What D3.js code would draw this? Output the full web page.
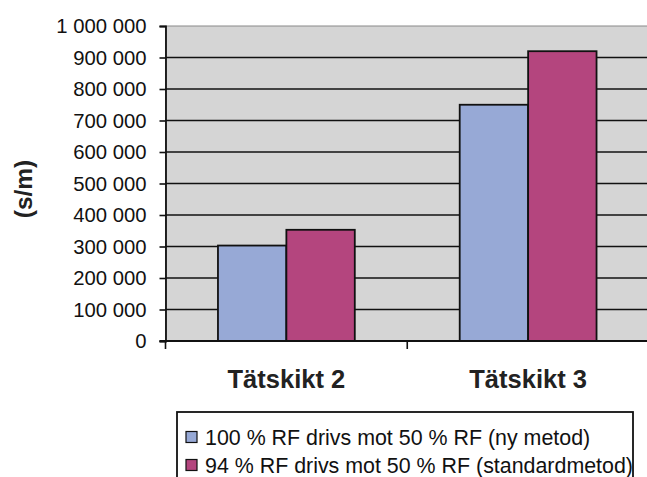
<!DOCTYPE html>
<html><head><meta charset="utf-8">
<script src="https://cdn.jsdelivr.net/npm/d3@7"></script>
<style>html,body{margin:0;padding:0;background:#fff}svg{display:block}</style>
</head><body>
<script>
const categories = ["Tätskikt 2", "Tätskikt 3"];
const seriesNames = ["100 % RF drivs mot 50 % RF (ny metod)", "94 % RF drivs mot 50 % RF (standardmetod)"];
const nyMetod = [303000, 750000];
const standardMetod = [353000, 920000];
const yTicks = [0,100000,200000,300000,400000,500000,600000,700000,800000,900000,1000000];
const yLabel = "(s/m)";
const colors = ["#97a9d6", "#b4457e"];

(function(){
const W = 647, H = 477;
const svg = d3.select("body").append("svg").attr("width", W).attr("height", H);
const pLeft = 165.5, pRight = 649, pTop = 26, pBottom = 341;

const x0 = d3.scaleBand().domain(categories).range([pLeft, pRight]).paddingInner(0.434).paddingOuter(0.217);
const x1 = d3.scaleBand().domain([0,1]).range([0, x0.bandwidth()]);
const y = d3.scaleLinear().domain([0, 1000000]).range([pBottom, pTop]);
const fmt = v => d3.format(",")(v).replace(/,/g, " ");

svg.append("rect").attr("x", pLeft).attr("y", pTop).attr("width", pRight-pLeft).attr("height", pBottom-pTop)
  .attr("fill", "#d5d5d5").attr("stroke", "#8a8a8a").attr("stroke-width", 1);

svg.append("g").selectAll("line").data(yTicks.filter(d => d > 0 && d < 1000000)).join("line")
  .attr("x1", pLeft).attr("x2", pRight).attr("y1", d => y(d)).attr("y2", d => y(d))
  .attr("stroke", "#111").attr("stroke-width", 1.6);

const data = categories.map((c, i) => ({c, vals: [nyMetod[i], standardMetod[i]]}));
const g = svg.append("g").selectAll("g").data(data).join("g").attr("transform", d => `translate(${x0(d.c)},0)`);
g.selectAll("rect").data(d => d.vals.map((v, k) => ({v, k}))).join("rect")
  .attr("x", d => x1(d.k)).attr("width", x1.bandwidth())
  .attr("y", d => y(d.v)).attr("height", d => y(0) - y(d.v))
  .attr("fill", d => colors[d.k]).attr("stroke", "#111").attr("stroke-width", 1.8);

const yAxis = d3.axisLeft(y).tickValues(yTicks).tickFormat(fmt).tickSize(6).tickPadding(13);
const ya = svg.append("g").attr("transform", `translate(${pLeft},0)`).call(yAxis);
ya.select(".domain").attr("stroke", "#111").attr("stroke-width", 1.8);
ya.selectAll(".tick line").attr("stroke", "#111").attr("stroke-width", 1.6);
ya.selectAll("text").attr("font-family", "Liberation Sans, Arial, sans-serif").attr("font-size", 20.3).attr("fill", "#111");

svg.append("line").attr("x1", pLeft - 6).attr("x2", pRight).attr("y1", pBottom).attr("y2", pBottom)
  .attr("stroke", "#111").attr("stroke-width", 1.8);
const bounds = d3.range(categories.length + 1).map(i => pLeft + i * x0.step());
svg.append("g").selectAll("line").data(bounds).join("line")
  .attr("x1", d => d).attr("x2", d => d).attr("y1", pBottom).attr("y2", pBottom + 8)
  .attr("stroke", "#111").attr("stroke-width", 1.6);
svg.append("g").selectAll("text").data(categories).join("text")
  .attr("x", d => x0(d) + x0.bandwidth()/2).attr("y", 388)
  .attr("text-anchor", "middle").attr("font-family", "Liberation Sans, Arial, sans-serif")
  .attr("font-weight", "bold").attr("font-size", 25.5).attr("fill", "#222").text(d => d);

svg.append("text").attr("transform", "translate(32,189) rotate(-90)")
  .attr("text-anchor", "middle").attr("font-family", "Liberation Sans, Arial, sans-serif")
  .attr("font-weight", "bold").attr("font-size", 24.5).attr("fill", "#222").text(yLabel);

const lg = svg.append("g");
lg.append("rect").attr("x", 177).attr("y", 412).attr("width", 456).attr("height", 90)
  .attr("fill", "#fff").attr("stroke", "#111").attr("stroke-width", 1.8);
const items = lg.selectAll("g").data(seriesNames).join("g")
  .attr("transform", (d, i) => `translate(186,${437 + i*28})`);
items.append("rect").attr("x", 0).attr("y", -5.5).attr("width", 11).attr("height", 11)
  .attr("fill", (d, i) => colors[i]).attr("stroke", "#111").attr("stroke-width", 1.2);
items.append("text").attr("x", 19).attr("y", 7.5).attr("font-family", "Liberation Sans, Arial, sans-serif")
  .attr("font-size", 21.4).attr("fill", "#111").text(d => d);
})();
</script>
</body></html>
